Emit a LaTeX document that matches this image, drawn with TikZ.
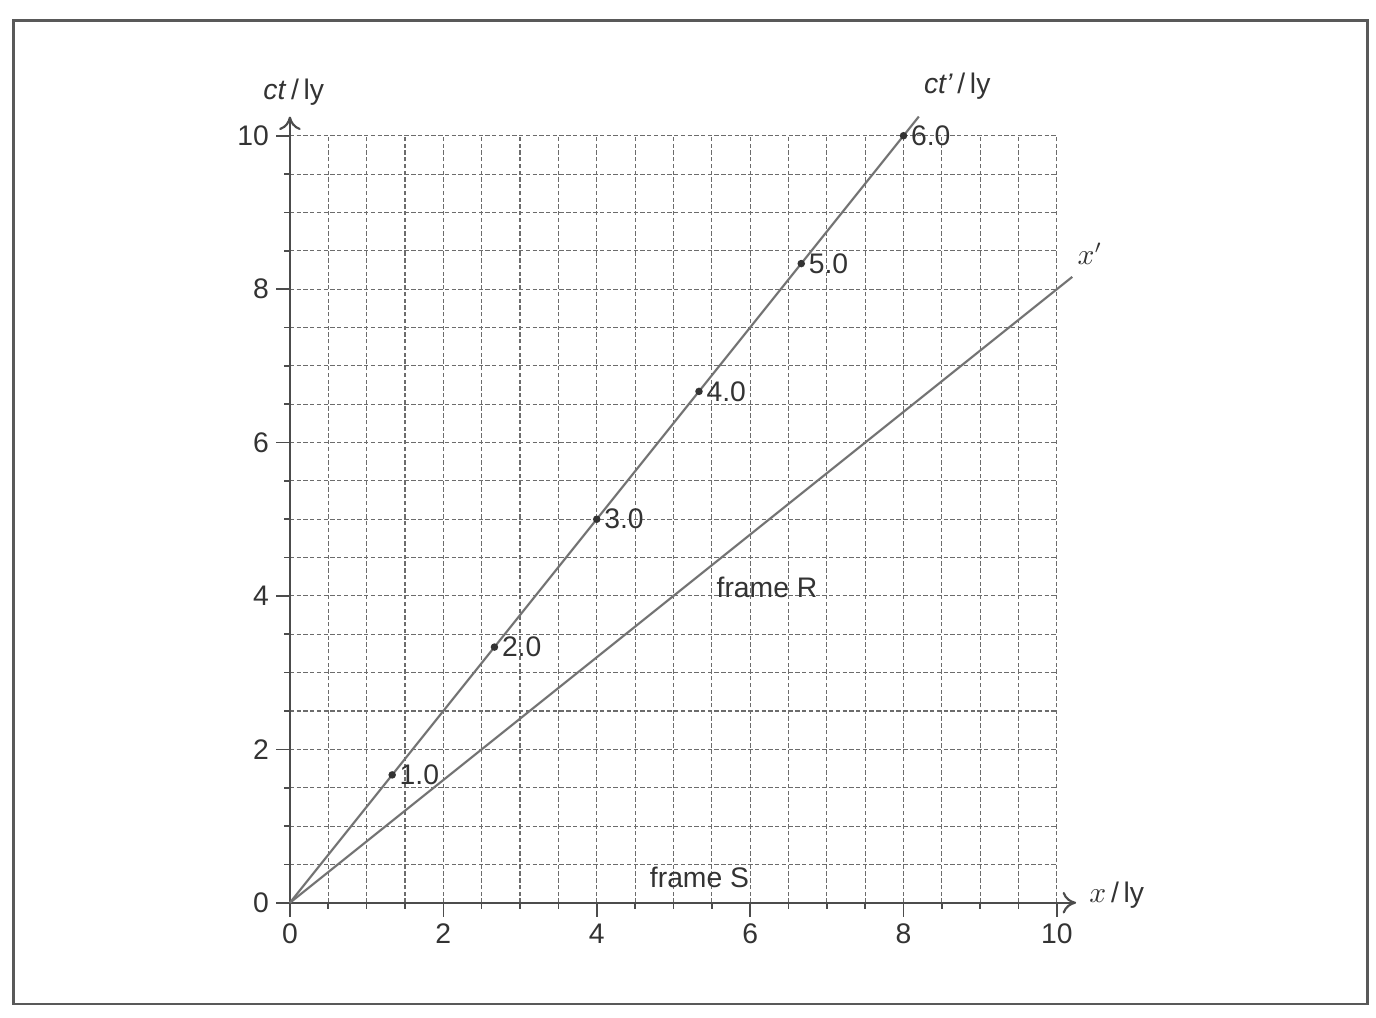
\documentclass[tikz,border=0pt]{standalone}
\usepackage{fontspec}
\setmainfont{Liberation Sans}
\usepackage{amsmath}
\usetikzlibrary{arrows.meta}

\begin{document}
\begin{tikzpicture}[
    font=\fontsize{10.5}{12}\selectfont,
    text=black!80,
    gridline/.style={gray!85!black, line width=0.4pt, dash pattern=on 1.6pt off 0.9pt},
    axisline/.style={-{To[length=5pt,width=8pt]}, line width=0.8pt, gray!60!black},
    worldline/.style={line width=0.8pt, black!55},
    dot/.style={circle, fill=black!80, inner sep=0pt, minimum size=2.8pt},
    ticksty/.style={line width=0.6pt, gray!60!black}
  ]
    \useasboundingbox (-3.78,-1.49) rectangle (14.16,11.77);
    \draw[line width=1.1pt, gray!70!black] (-3.6,-1.32) rectangle (14.05,11.5);
    % grid and axes
    \draw[gridline] (0,0) grid[step=0.5] (10,10);
    \coordinate (O) at (0,0);
    \coordinate (xtip) at (10.25,0);
    \coordinate (ytip) at (0,10.25);
    \draw[axisline] (O) -- (xtip);
    \draw[axisline] (O) -- (ytip);
    \foreach \t in {0.5,1,...,10} {
      \draw[ticksty] (\t,0) -- (\t,-0.08);
      \draw[ticksty] (0,\t) -- (-0.08,\t);
    }
    \foreach \v in {0,2,...,10} {
      \draw[ticksty] (\v,0) -- (\v,-0.18);
      \draw[ticksty] (0,\v) -- (-0.18,\v);
      \node[below] (xn\v) at (\v,-0.15) {\v};
      \node[left] (yn\v) at (-0.15,\v) {\v};
    }
    % world lines of frame R
    \coordinate (ctend) at (8.2,10.25);
    \coordinate (xpend) at (10.2,8.16);
    \draw[worldline] (O) -- (ctend);
    \draw[worldline] (O) -- (xpend);
    \foreach \k in {1,...,6}
      \node[dot, label={[inner sep=1pt]right:\k.0}] (tau\k) at ({4/3*\k},{5/3*\k}) {};
    % labels
    \node (ctlab) at (0.05,10.57) {\textit{ct}\,/\,ly};
    \node (ctplab) at (8.7,10.65) {\textit{ct\textquoteright}\,/\,ly};
    \node (xplab) at (10.43,8.46) {$x'$};
    \node[anchor=west] (xlab) at (10.3,0.1) {$x$\,/\,ly};
    \node (frameS) at (5.34,0.33) {frame S};
    \node (frameR) at (6.22,4.11) {frame R};
  \end{tikzpicture}
\end{document}
